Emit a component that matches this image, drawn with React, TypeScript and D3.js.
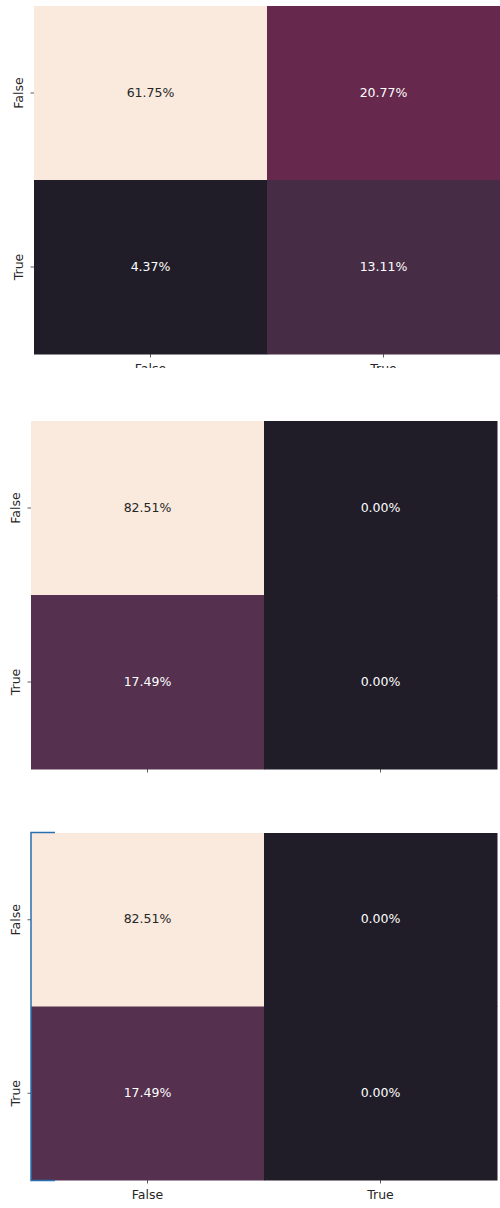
import React from "react";
import * as d3 from "d3";

const rowLabels = ["False", "True"];
const colLabels = ["False", "True"];
const matrixA = [
  [61.75, 20.77],
  [4.37, 13.11],
];
const matrixB = [
  [82.51, 0.0],
  [17.49, 0.0],
];
const matrixC = [
  [82.51, 0.0],
  [17.49, 0.0],
];

const rocketStops = [0, 0.152, 0.212, 0.286, 0.5, 0.75, 1];
const rocketColors = ["#201d29", "#462d45", "#55304f", "#66284c", "#c2274f", "#f08a62", "#f9eadd"];
const rocket = d3.scaleLinear<string>().domain(rocketStops).range(rocketColors).interpolate(d3.interpolateRgb);

const panels = [
  { id: "a", data: matrixA, left: 34, top: 6, width: 466, height: 348, clip: 368, yLabelX: 18 },
  { id: "b", data: matrixB, left: 31, top: 421, width: 466, height: 348, clip: 774, yLabelX: 15 },
  { id: "c", data: matrixC, left: 31, top: 833, width: 466, height: 347, clip: 1208, yLabelX: 15 },
];

const FONT = "DejaVu Sans, sans-serif";

function Panel({ p }: { p: (typeof panels)[number] }) {
  const x = d3.scaleBand<string>().domain(colLabels).range([p.left, p.left + p.width]);
  const y = d3.scaleBand<string>().domain(rowLabels).range([p.top, p.top + p.height]);
  const flat = p.data.flat();
  const vmin = d3.min(flat) as number;
  const vmax = d3.max(flat) as number;
  const norm = d3.scaleLinear().domain([vmin, vmax]).range([0, 1]);
  return (
    <g clipPath={`url(#clip-${p.id})`}>
      {p.data.map((row, i) =>
        row.map((v, j) => {
          const t = norm(v);
          const fill = rocket(t);
          const lum = d3.hsl(fill).l;
          return (
            <g key={`${i}-${j}`}>
              <rect
                x={x(colLabels[j])}
                y={y(rowLabels[i])}
                width={x.bandwidth() + 0.5}
                height={y.bandwidth() + 0.5}
                fill={fill}
              />
              <text
                x={(x(colLabels[j]) as number) + x.bandwidth() / 2}
                y={(y(rowLabels[i]) as number) + y.bandwidth() / 2 - 1}
                textAnchor="middle"
                dominantBaseline="central"
                fontFamily={FONT}
                fontSize={12.5}
                fill={lum > 0.5 ? "#262626" : "#ffffff"}
              >
                {v.toFixed(2)}%
              </text>
            </g>
          );
        })
      )}
      {rowLabels.map((r) => {
        const cy = (y(r) as number) + y.bandwidth() / 2;
        return (
          <g key={`y-${r}`}>
            <line x1={p.left - 3.5} x2={p.left} y1={cy} y2={cy} stroke="#333" strokeWidth={0.8} />
            <text
              transform={`translate(${p.yLabelX},${cy}) rotate(-90)`}
              textAnchor="middle"
              dominantBaseline="central"
              fontFamily={FONT}
              fontSize={12.5}
              fill="#262626"
            >
              {r}
            </text>
          </g>
        );
      })}
      {colLabels.map((c) => {
        const cx = (x(c) as number) + x.bandwidth() / 2;
        const by = p.top + p.height;
        return (
          <g key={`x-${c}`}>
            <line x1={cx} x2={cx} y1={by} y2={by + 3.5} stroke="#333" strokeWidth={0.8} />
            <text
              x={cx}
              y={by + 14}
              textAnchor="middle"
              dominantBaseline="central"
              fontFamily={FONT}
              fontSize={12.5}
              fill="#262626"
            >
              {c}
            </text>
          </g>
        );
      })}
    </g>
  );
}

export default function App() {
  const last = panels[2];
  return (
    <svg
      width={500}
      height={1208}
      style={{ position: "absolute", left: 0, top: 0, background: "#ffffff" }}
    >
      <defs>
        {panels.map((p) => (
          <clipPath key={p.id} id={`clip-${p.id}`}>
            <rect x={0} y={p.top - 20} width={500} height={p.clip - (p.top - 20)} />
          </clipPath>
        ))}
      </defs>
      <rect x={0} y={0} width={500} height={1208} fill="#ffffff" />
      {panels.map((p) => (
        <Panel key={p.id} p={p} />
      ))}
      <path
        d={`M${last.left + 24},${last.top - 0.5} H${last.left} V${last.top + last.height + 0.5} H${last.left + 24}`}
        fill="none"
        stroke="#2a6fb0"
        strokeWidth={1.5}
      />
    </svg>
  );
}
